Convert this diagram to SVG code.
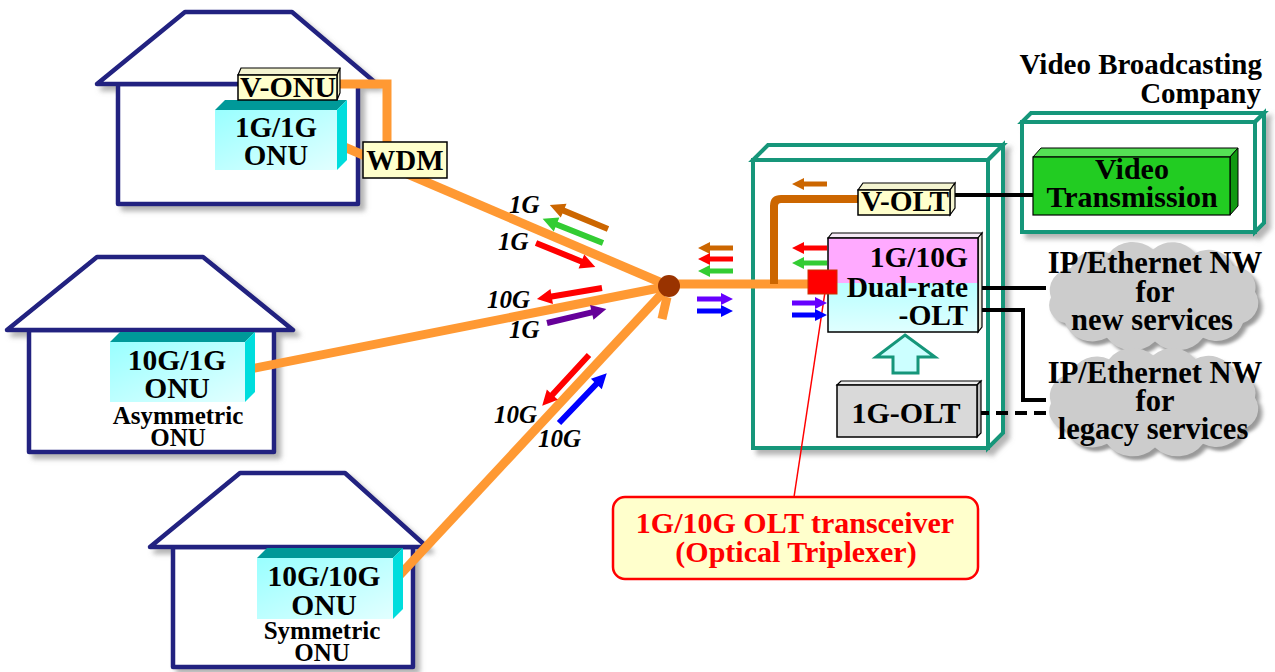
<svg xmlns="http://www.w3.org/2000/svg" width="1275" height="672" viewBox="0 0 1275 672">
  <style>
    .t { font-family: "Liberation Serif", "Times New Roman", serif; font-weight: bold; fill: #000; }
    .m { text-anchor: middle; }
    .e { text-anchor: end; }
    .lbl { font-family: "Liberation Serif", "Times New Roman", serif; font-weight: bold; font-style: italic; font-size: 25px; fill: #000; }
    .house { fill: #fff; stroke: #202080; stroke-width: 4.5; stroke-linejoin: round; }
    .onuTop { fill: #009999; }
    .onuSide { fill: #00dddd; }
    .onuFront { fill: url(#onuGrad); }
    .ybox { fill: #ffffcc; stroke: #000; stroke-width: 1.5; }
    .ytop { fill: #f4f4d0; stroke: #000; stroke-width: 1.2; }
    .cont { fill: #fff; stroke: #15967a; stroke-width: 4; stroke-linejoin: miter; }
    .fiber { fill: none; stroke: #ff9933; stroke-width: 9; }
    .wire { fill: none; stroke: #000; stroke-width: 4; }
    .a-brown { fill: #cc6600; }
    .a-green { fill: #33cc33; }
    .a-red { fill: #ff0000; }
    .a-purple { fill: #660099; }
    .a-violet { fill: #6600ff; }
    .a-blue { fill: #0000ff; }
  </style>
  <defs>
    <linearGradient id="onuGrad" x1="0" y1="0" x2="1" y2="1">
      <stop offset="0" stop-color="#99ffff"/>
      <stop offset="1" stop-color="#e2ffff"/>
    </linearGradient>
    <linearGradient id="cyanGrad" x1="0" y1="0" x2="0" y2="1">
      <stop offset="0" stop-color="#b8ffff"/>
      <stop offset="1" stop-color="#e0ffff"/>
    </linearGradient>
    <filter id="shadow" x="-10%" y="-10%" width="125%" height="125%">
      <feDropShadow dx="5" dy="5" stdDeviation="2.5" flood-color="#777" flood-opacity="0.55"/>
    </filter>
    <filter id="soft" x="-10%" y="-10%" width="125%" height="125%">
      <feGaussianBlur stdDeviation="2"/>
    </filter>
    <!-- cloud outline, about 220 x 121 before vertical scaling -->
    <path id="cloud" d="M22,86 A20,20 0 0 1 8,58 A24.5,24.5 0 0 1 28,26 A27,27 0 0 1 66,10 A29,29 0 0 1 110,6 A27.5,27.5 0 0 1 152,10 A26,26 0 0 1 190,24 A23,23 0 0 1 212,52 A23.5,23.5 0 0 1 200,86 A28,28 0 0 1 160,102 A31,31 0 0 1 112,106 A31,31 0 0 1 64,102 A29,29 0 0 1 22,86 Z"/>
  </defs>

  <rect width="1275" height="672" fill="#fff"/>

  <!-- Houses -->
  <g id="house-1" filter="url(#shadow)">
    <rect class="house" x="118" y="84" width="240" height="120"/>
    <polygon class="house" points="185,12 292,12 377,84 97,84"/>
  </g>
  <g id="house-2" filter="url(#shadow)">
    <rect class="house" x="29" y="330" width="245" height="122"/>
    <polygon class="house" points="97,257 203,257 293,330 7,330"/>
  </g>
  <g id="house-3" filter="url(#shadow)">
    <rect class="house" x="173" y="547" width="240" height="120"/>
    <polygon class="house" points="240,473 345,473 427,547 150,547"/>
  </g>

  <!-- OLT station enclosure -->
  <g id="olt-station" filter="url(#shadow)">
    <polygon class="cont" points="753,160 768,145 1003,145 988,160"/>
    <polygon class="cont" points="988,160 1003,145 1003,433 988,448"/>
    <rect class="cont" x="753" y="160" width="235" height="288"/>
  </g>

  <!-- Video broadcasting company enclosure -->
  <g id="video-company" filter="url(#shadow)">
    <polygon class="cont" points="1022,122 1031,113 1264,113 1255,122"/>
    <polygon class="cont" points="1255,122 1264,113 1264,223 1255,232"/>
    <rect class="cont" x="1022" y="122" width="233" height="110"/>
  </g>
  <g id="video-company-label">
    <text class="t e" x="1262" y="74" font-size="29">Video Broadcasting</text>
    <text class="t e" x="1261" y="103" font-size="29">Company</text>
  </g>

  <!-- Networks -->
  <g id="cloud-new">
    <use href="#cloud" transform="translate(1047,248) scale(1,0.92)" fill="#999" filter="url(#soft)"/>
    <use href="#cloud" transform="translate(1043,244) scale(1,0.92)" fill="#cccccc"/>
    <text class="t m" x="1155" y="273" font-size="30.5">IP/Ethernet NW</text>
    <text class="t m" x="1155" y="302" font-size="30.5">for</text>
    <text class="t m" x="1152" y="330" font-size="30.5">new services</text>
  </g>
  <g id="cloud-legacy">
    <use href="#cloud" transform="translate(1047,354) scale(1,0.92)" fill="#999" filter="url(#soft)"/>
    <use href="#cloud" transform="translate(1043,350) scale(1,0.92)" fill="#cccccc"/>
    <text class="t m" x="1155" y="383" font-size="30.5">IP/Ethernet NW</text>
    <text class="t m" x="1155" y="411" font-size="30.5">for</text>
    <text class="t m" x="1153" y="439" font-size="30.5">legacy services</text>
  </g>

  <!-- Connectors -->
  <g id="connectors">
    <path class="fiber" d="M337,84 H387 V145"/>
    <line class="fiber" x1="342" y1="146" x2="669" y2="286"/>
    <line class="fiber" x1="245" y1="370" x2="669" y2="286"/>
    <line class="fiber" x1="398" y1="577" x2="669" y2="286"/>
    <line class="fiber" x1="662" y1="319" x2="667" y2="297"/>
    <line class="fiber" x1="669" y1="284" x2="810" y2="284"/>
    <path d="M774,284 V206 Q774,199 781,199 H860" fill="none" stroke="#cc6600" stroke-width="8"/>
    <line class="wire" x1="950" y1="195" x2="1034" y2="195"/>
    <line class="wire" x1="978" y1="288" x2="1046" y2="288"/>
    <path class="wire" d="M978,310 H1023 V400 H1046"/>
    <line class="wire" x1="977" y1="413" x2="1050" y2="413" stroke-dasharray="12,7"/>
    <line x1="825" y1="292" x2="794" y2="497" stroke="#ff0000" stroke-width="1.5"/>
  </g>

  <!-- Splitter -->
  <g id="splitter">
    <circle cx="669" cy="286" r="11" fill="#993300"/>
  </g>

  <!-- Subscriber equipment -->
  <g id="onu-1g1g">
    <polygon class="onuTop" points="215,110 225,100 347,100 337,110"/>
    <polygon class="onuSide" points="337,110 347,100 347,160 337,170"/>
    <rect class="onuFront" x="215" y="110" width="122" height="60"/>
    <text class="t m" x="276" y="137" font-size="29">1G/1G</text>
    <text class="t m" x="276" y="165" font-size="29">ONU</text>
  </g>
  <g id="v-onu">
    <polygon class="ytop" points="238,75 241,68 340,68 337,75"/>
    <polygon class="ytop" points="337,75 340,68 340,93 337,100"/>
    <rect class="ybox" x="238" y="75" width="99" height="25"/>
    <text class="t m" x="288" y="97" font-size="30">V-ONU</text>
  </g>
  <g id="wdm">
    <rect class="ybox" x="363" y="142" width="84" height="36"/>
    <text class="t m" x="405" y="170" font-size="29">WDM</text>
  </g>
  <g id="onu-10g1g">
    <polygon class="onuTop" points="110,342 120,332 255,332 245,342"/>
    <polygon class="onuSide" points="245,342 255,332 255,392 245,402"/>
    <rect class="onuFront" x="110" y="342" width="135" height="60"/>
    <text class="t m" x="177" y="370" font-size="29.5">10G/1G</text>
    <text class="t m" x="177" y="398" font-size="29.5">ONU</text>
    <text class="t m" x="178" y="424" font-size="25">Asymmetric</text>
    <text class="t m" x="178" y="446" font-size="25">ONU</text>
  </g>
  <g id="onu-10g10g">
    <polygon class="onuTop" points="257,558 267,548 403,548 393,558"/>
    <polygon class="onuSide" points="393,558 403,548 403,609 393,619"/>
    <rect class="onuFront" x="257" y="558" width="136" height="61"/>
    <text class="t m" x="324" y="586" font-size="29.5">10G/10G</text>
    <text class="t m" x="324" y="615" font-size="29.5">ONU</text>
    <text class="t m" x="322" y="639" font-size="25">Symmetric</text>
    <text class="t m" x="322" y="661" font-size="25">ONU</text>
  </g>

  <!-- Central office equipment -->
  <g id="v-olt">
    <polygon class="ytop" points="858,190 863,183 955,183 950,190"/>
    <polygon class="ytop" points="950,190 955,183 955,208 950,215"/>
    <rect class="ybox" x="858" y="190" width="92" height="25"/>
    <text class="t m" x="905" y="211" font-size="29" textLength="88" lengthAdjust="spacingAndGlyphs">V-OLT</text>
  </g>
  <g id="dual-rate-olt">
    <polygon points="828,238 832,233 982,233 978,238" fill="#f6eaf6" stroke="#000" stroke-width="1.2"/>
    <polygon points="978,238 982,233 982,327 978,332" fill="#e8e8d8" stroke="#000" stroke-width="1.2"/>
    <rect x="828" y="238" width="150" height="45" fill="#ffaaff"/>
    <rect x="828" y="283" width="150" height="49" fill="url(#cyanGrad)"/>
    <rect x="828" y="238" width="150" height="94" fill="none" stroke="#000" stroke-width="1.5"/>
    <text class="t e" x="968" y="267" font-size="29.5">1G/10G</text>
    <text class="t e" x="968" y="297" font-size="29.5">Dual-rate</text>
    <text class="t e" x="968" y="325" font-size="29.5">-OLT</text>
  </g>
  <g id="transceiver">
    <rect x="808" y="270" width="29" height="24" fill="#ff0000" stroke="#cc3300" stroke-width="1"/>
  </g>
  <g id="upgrade-arrow">
    <polygon points="905,335 935,357 918,357 918,373 893,373 893,357 876,357" fill="#ccffff" stroke="#15967a" stroke-width="3" stroke-linejoin="miter"/>
  </g>
  <g id="olt-1g">
    <polygon points="837,385 841,381 981,381 977,385" fill="#eeeeee" stroke="#000" stroke-width="1.2"/>
    <polygon points="977,385 981,381 981,433 977,437" fill="#bbbbbb" stroke="#000" stroke-width="1.2"/>
    <rect x="837" y="385" width="140" height="52" fill="#d9d9d9" stroke="#000" stroke-width="1.5"/>
    <text class="t m" x="906" y="423" font-size="30">1G-OLT</text>
  </g>
  <g id="video-transmission">
    <polygon points="1033,157 1041,148 1238,148 1230,157" fill="#55e055" stroke="#000" stroke-width="1"/>
    <polygon points="1230,157 1238,148 1238,206 1230,215" fill="#119911" stroke="#000" stroke-width="1"/>
    <rect x="1033" y="157" width="197" height="58" fill="#22cc22" stroke="#000" stroke-width="1.2"/>
    <text class="t m" x="1132" y="179" font-size="30">Video</text>
    <text class="t m" x="1132" y="207" font-size="30">Transmission</text>
  </g>

  <!-- Signal direction arrows on the fibers -->
  <g id="signal-arrows">
    <path class="a-brown" transform="translate(608,229) rotate(202.5)" d="M0,-3 H48 V-7.5 L63,0 L48,7.5 V3 H0 Z"/>
    <path class="a-green" transform="translate(603,243) rotate(201.8)" d="M0,-3 H50 V-7.5 L65,0 L50,7.5 V3 H0 Z"/>
    <path class="a-red" transform="translate(536,243) rotate(22.1)" d="M0,-3 H49 V-7.5 L64,0 L49,7.5 V3 H0 Z"/>
    <path class="a-red" transform="translate(602,288) rotate(170.4)" d="M0,-3 H51 V-7.5 L66,0 L51,7.5 V3 H0 Z"/>
    <path class="a-purple" transform="translate(547,323) rotate(-13.3)" d="M0,-3 H46 V-7.5 L61,0 L46,7.5 V3 H0 Z"/>
    <path class="a-red" transform="translate(589,355) rotate(132.7)" d="M0,-3 H54 V-7.5 L69,0 L54,7.5 V3 H0 Z"/>
    <path class="a-blue" transform="translate(559,423) rotate(-46.2)" d="M0,-3 H54 V-7.5 L69,0 L54,7.5 V3 H0 Z"/>

    <path class="a-brown" transform="translate(733,248) rotate(180)" d="M0,-2.5 H23 V-6 L35,0 L23,6 V2.5 H0 Z"/>
    <path class="a-red" transform="translate(733,259) rotate(180)" d="M0,-2.5 H23 V-6 L35,0 L23,6 V2.5 H0 Z"/>
    <path class="a-green" transform="translate(733,271) rotate(180)" d="M0,-2.5 H23 V-6 L35,0 L23,6 V2.5 H0 Z"/>
    <path class="a-violet" transform="translate(697,299)" d="M0,-2.5 H24 V-6 L36,0 L24,6 V2.5 H0 Z"/>
    <path class="a-blue" transform="translate(697,311)" d="M0,-2.5 H24 V-6 L36,0 L24,6 V2.5 H0 Z"/>

    <path class="a-brown" transform="translate(827,184) rotate(180)" d="M0,-2.5 H23 V-6 L35,0 L23,6 V2.5 H0 Z"/>
    <path class="a-red" transform="translate(827,248) rotate(180)" d="M0,-2.5 H23 V-6 L35,0 L23,6 V2.5 H0 Z"/>
    <path class="a-green" transform="translate(827,263) rotate(180)" d="M0,-2.5 H23 V-6 L35,0 L23,6 V2.5 H0 Z"/>
    <path class="a-violet" transform="translate(792,303)" d="M0,-2.5 H23 V-6 L35,0 L23,6 V2.5 H0 Z"/>
    <path class="a-blue" transform="translate(792,315)" d="M0,-2.5 H23 V-6 L35,0 L23,6 V2.5 H0 Z"/>
  </g>

  <!-- Line rate labels -->
  <g id="rate-labels">
    <text class="lbl" x="509" y="213">1G</text>
    <text class="lbl" x="498" y="250">1G</text>
    <text class="lbl" x="487" y="308">10G</text>
    <text class="lbl" x="509" y="338">1G</text>
    <text class="lbl" x="494" y="423">10G</text>
    <text class="lbl" x="538" y="447">10G</text>
  </g>

  <!-- Callout -->
  <g id="transceiver-callout">
    <rect x="613" y="497" width="365" height="82" rx="12" fill="#ffffcc" stroke="#ff0000" stroke-width="2.5"/>
    <text class="t m" x="795" y="533" font-size="30" style="fill:#ff0000">1G/10G OLT transceiver</text>
    <text class="t m" x="796" y="562" font-size="30" style="fill:#ff0000">(Optical Triplexer)</text>
  </g>
</svg>
